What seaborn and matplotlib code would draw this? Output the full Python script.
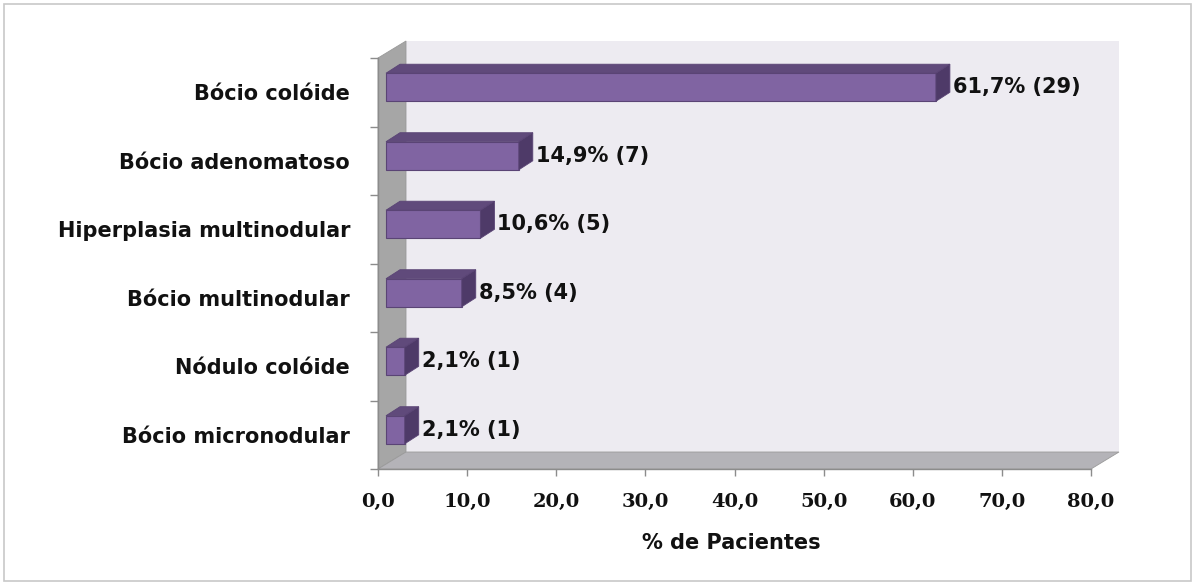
import matplotlib
matplotlib.use("Agg")
import matplotlib.pyplot as plt
import seaborn as sns
import pandas as pd
from matplotlib.patches import Polygon, Rectangle
from matplotlib.transforms import Affine2D
from matplotlib.ticker import FixedLocator

# Data
categories = ["Bócio colóide", "Bócio adenomatoso", "Hiperplasia multinodular",
              "Bócio multinodular", "Nódulo colóide", "Bócio micronodular"]
percentages = [61.7, 14.9, 10.6, 8.5, 2.1, 2.1]
counts = [29, 7, 5, 4, 1, 1]
x_ticks = [0, 10, 20, 30, 40, 50, 60, 70, 80]
x_label = "% de Pacientes"

# Colours
FRONT = "#8064A2"
TOP = "#604A7B"
SIDE = "#4E3A68"
EDGE = "#5A4475"
BACK_WALL = "#EDEBF1"
SIDE_WALL = "#A6A6A6"
FLOOR = "#B4B3B8"
AXIS_GRAY = "#8C8C8C"
TEXT = "#111111"

sns.set_theme(style="white")
plt.rcParams["font.family"] = ["DejaVu Sans"]

W, H = 1195, 585
fig = plt.figure(figsize=(W / 100, H / 100), dpi=100)
fig.patch.set_facecolor("white")

# front plane of the 3-D box, in pixels
L, R, T, B = 378, 1091, 58, 469
ax = fig.add_axes([L / W, 1 - B / H, (R - L) / W, (B - T) / H])
ax.set_facecolor("none")

df = pd.DataFrame({"Diagnóstico": categories, "Pct": percentages})
sns.barplot(data=df, x="Pct", y="Diagnóstico", orient="h", color=FRONT,
            saturation=1, width=0.41, edgecolor=EDGE, linewidth=0.8,
            ax=ax, zorder=3)

ax.set_xlim(0, 80)
ax.set_ylim(5.5, -0.5)

sx = (R - L) / 80.0   # px per x unit
sy = (B - T) / 6.0    # px per category


def off(x, y, dxp, dyp):
    """Shift a data point by a pixel offset (dyp > 0 is upwards)."""
    return (x + dxp / sx, y - dyp / sy)


# depth of the chart box
DX, DY = 28, 17
back = [off(0, -0.5, DX, DY), off(80, -0.5, DX, DY),
        off(80, 5.5, DX, DY), off(0, 5.5, DX, DY)]
side = [(0, -0.5), off(0, -0.5, DX, DY), off(0, 5.5, DX, DY), (0, 5.5)]
floor = [(0, 5.5), off(0, 5.5, DX, DY), off(80, 5.5, DX, DY), (80, 5.5)]
ax.add_patch(Polygon(back, closed=True, facecolor=BACK_WALL, edgecolor="none",
                     zorder=0.2, clip_on=False))
ax.add_patch(Polygon(side, closed=True, facecolor=SIDE_WALL, edgecolor="#999999",
                     lw=0.6, zorder=0.4, clip_on=False))
ax.add_patch(Polygon(floor, closed=True, facecolor=FLOOR, edgecolor="#9A9A9A",
                     lw=0.6, zorder=0.4, clip_on=False))

# bars: shift front faces into the box and add top / side faces
bar_shift = ax.transData + Affine2D().translate(8, 5)
BDX, BDY = 14, 9
for p, pct, n in zip(ax.patches, percentages, counts):
    x0, y0 = p.get_x(), p.get_y()
    w, h = p.get_width(), p.get_height()
    p.set_transform(bar_shift)
    p.set_clip_on(False)
    top = [(x0, y0), (x0 + w, y0), off(x0 + w, y0, BDX, BDY), off(x0, y0, BDX, BDY)]
    rside = [(x0 + w, y0), off(x0 + w, y0, BDX, BDY),
             off(x0 + w, y0 + h, BDX, BDY), (x0 + w, y0 + h)]
    ax.add_patch(Polygon(top, closed=True, facecolor=TOP, edgecolor=EDGE, lw=0.6,
                         transform=bar_shift, zorder=3, clip_on=False))
    ax.add_patch(Polygon(rside, closed=True, facecolor=SIDE, edgecolor=EDGE, lw=0.6,
                         transform=bar_shift, zorder=3, clip_on=False))
    label = f"{pct:.1f}".replace(".", ",") + f"% ({n})"
    ax.text(x0 + w, y0 + h / 2, label, ha="left", va="center",
            fontsize=15, fontweight="bold", color=TEXT,
            transform=ax.transData + Affine2D().translate(8 + BDX + 3, 5),
            zorder=4)

# axes
for s in ["top", "right"]:
    ax.spines[s].set_visible(False)
for s in ["left", "bottom"]:
    ax.spines[s].set_color(AXIS_GRAY)
    ax.spines[s].set_linewidth(1.0)
    ax.spines[s].set_zorder(0.5)

ax.set_xticks(x_ticks)
ax.set_xticklabels([f"{t:.1f}".replace(".", ",") for t in x_ticks],
                   fontfamily="DejaVu Serif", fontsize=14, fontweight="bold",
                   color=TEXT)
ax.tick_params(axis="x", which="major", bottom=True, length=5, width=1,
               color=AXIS_GRAY, pad=12)

ax.set_yticks(range(len(categories)))
ax.set_yticklabels(categories, fontsize=15, fontweight="bold", color=TEXT)
ax.tick_params(axis="y", which="major", left=True, length=0, pad=20)
ax.yaxis.set_minor_locator(FixedLocator([i - 0.5 for i in range(len(categories) + 1)]))
ax.tick_params(axis="y", which="minor", left=True, length=6, width=1, color=AXIS_GRAY)

ax.set_ylabel("")
ax.set_xlabel(x_label, fontsize=15, fontweight="bold", color=TEXT)
ax.xaxis.set_label_coords((731 - L) / (R - L), (B - 543) / (B - T))
ax.xaxis.label.set_va("center")

# outer frame
fig.patches.append(Rectangle((4 / W, 4 / H), (W - 8) / W, (H - 8) / H,
                             transform=fig.transFigure, fill=False,
                             edgecolor="#C8C8C8", lw=1.2))

fig.savefig("out.png", dpi=100)
